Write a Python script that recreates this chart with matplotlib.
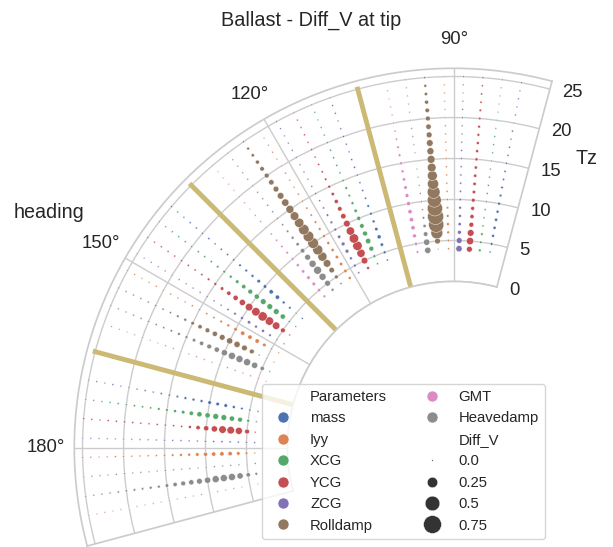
import numpy as np
import pandas as pd
import matplotlib
matplotlib.use('Agg')
import matplotlib.pyplot as plt
from matplotlib.lines import Line2D

plt.rcParams['font.family'] = ['Liberation Sans', 'DejaVu Sans']
plt.rcParams['text.color'] = '#262626'
plt.rcParams['axes.labelcolor'] = '#262626'
plt.rcParams['xtick.color'] = '#262626'
plt.rcParams['ytick.color'] = '#262626'

params = ['mass', 'Iyy', 'XCG', 'YCG', 'ZCG', 'Rolldamp', 'GMT', 'Heavedamp']
colors = ['#4C72B0', '#DD8452', '#55A868', '#C44E52', '#8172B3', '#937860', '#DA8BC3', '#8C8C8C']
# spread of the parameters around each heading (deg)
offsets = {'mass': -10.5, 'XCG': -7.5, 'YCG': -4.5, 'ZCG': -1.5,
           'Iyy': 1.5, 'Rolldamp': 4.5, 'Heavedamp': 7.5, 'GMT': 10.5}

headings = [90, 120, 150, 180]
tz = list(range(4, 26))
dividers = [105, 135, 165]
size_levels = [0.0, 0.25, 0.5, 0.75]

# Diff_V per parameter, Tz = 4..25
diffv_090 = {
    'mass':      [0.005, 0.013, 0.015, 0.018, 0.018, 0.016, 0.015, 0.013, 0.01, 0.007, 0.006, 0.005, 0.005, 0.004, 0.004, 0.004, 0.003, 0.003, 0.003, 0.002, 0.002, 0.002],
    'Iyy':       [0.005, 0.01, 0.013, 0.013, 0.013, 0.01, 0.006, 0.005, 0.005, 0.004, 0.004, 0.004, 0.003, 0.003, 0.003, 0.003, 0.002, 0.002, 0.002, 0.002, 0.002, 0.002],
    'XCG':       [0.013, 0.01, 0.01, 0.006, 0.005, 0.005, 0.004, 0.004, 0.004, 0.004, 0.003, 0.003, 0.003, 0.003, 0.003, 0.002, 0.002, 0.002, 0.002, 0.002, 0.002, 0.002],
    'YCG':       [0.073, 0.116, 0.1, 0.05, 0.036, 0.029, 0.029, 0.023, 0.021, 0.02, 0.019, 0.018, 0.016, 0.015, 0.014, 0.013, 0.011, 0.01, 0.007, 0.006, 0.005, 0.004],
    'ZCG':       [0.087, 0.073, 0.029, 0.019, 0.015, 0.013, 0.01, 0.007, 0.006, 0.006, 0.005, 0.005, 0.004, 0.004, 0.004, 0.003, 0.003, 0.003, 0.003, 0.002, 0.002, 0.002],
    'Rolldamp':  [0.0, 0.073, 0.33, 0.54, 0.6, 0.54, 0.45, 0.38, 0.28, 0.22, 0.17, 0.14, 0.11, 0.097, 0.073, 0.062, 0.05, 0.042, 0.033, 0.021, 0.015, 0.005],
    'Heavedamp': [0.087, 0.087, 0.043, 0.019, 0.01, 0.004, 0.003, 0.003, 0.002, 0.002, 0.002, 0.002, 0.002, 0.002, 0.002, 0.002, 0.001, 0.001, 0.001, 0.001, 0.001, 0.001],
    'GMT':       [0.01, 0.019, 0.029, 0.036, 0.036, 0.036, 0.032, 0.029, 0.023, 0.019, 0.016, 0.015, 0.013, 0.01, 0.007, 0.006, 0.005, 0.004, 0.003, 0.002, 0.002, 0.001],
}
diffv_120 = {
    'mass':      [0.005, 0.015, 0.021, 0.033, 0.021, 0.015, 0.013, 0.01, 0.006, 0.006, 0.005, 0.005, 0.005, 0.004, 0.004, 0.004, 0.003, 0.003, 0.003, 0.003, 0.002, 0.002],
    'Iyy':       [0.015, 0.021, 0.021, 0.021, 0.018, 0.016, 0.014, 0.012, 0.01, 0.008, 0.007, 0.006, 0.005, 0.004, 0.004, 0.004, 0.003, 0.003, 0.003, 0.002, 0.002, 0.002],
    'XCG':       [0.005, 0.015, 0.05, 0.062, 0.05, 0.042, 0.033, 0.021, 0.015, 0.011, 0.011, 0.007, 0.006, 0.006, 0.005, 0.005, 0.004, 0.004, 0.003, 0.003, 0.003, 0.002],
    'YCG':       [0.015, 0.097, 0.154, 0.2, 0.2, 0.154, 0.097, 0.062, 0.042, 0.033, 0.021, 0.015, 0.01, 0.007, 0.006, 0.005, 0.005, 0.004, 0.004, 0.003, 0.003, 0.002],
    'ZCG':       [0.006, 0.015, 0.015, 0.029, 0.029, 0.021, 0.015, 0.013, 0.01, 0.006, 0.005, 0.005, 0.004, 0.004, 0.004, 0.003, 0.003, 0.003, 0.003, 0.002, 0.002, 0.002],
    'Rolldamp':  [0.005, 0.029, 0.065, 0.13, 0.19, 0.23, 0.26, 0.26, 0.25, 0.2, 0.17, 0.145, 0.12, 0.097, 0.073, 0.062, 0.05, 0.042, 0.033, 0.021, 0.015, 0.005],
    'Heavedamp': [0.015, 0.073, 0.11, 0.14, 0.11, 0.073, 0.042, 0.021, 0.015, 0.01, 0.006, 0.005, 0.004, 0.004, 0.003, 0.003, 0.003, 0.003, 0.002, 0.002, 0.002, 0.002],
    'GMT':       [0.014, 0.02, 0.024, 0.024, 0.02, 0.016, 0.013, 0.01, 0.008, 0.007, 0.006, 0.005, 0.004, 0.004, 0.003, 0.003, 0.003, 0.002, 0.002, 0.002, 0.002, 0.002],
}
diffv_150 = {
    'mass':      [0.003, 0.003, 0.01, 0.015, 0.038, 0.038, 0.024, 0.024, 0.015, 0.013, 0.01, 0.007, 0.006, 0.006, 0.005, 0.005, 0.004, 0.004, 0.004, 0.003, 0.003, 0.003],
    'Iyy':       [0.002, 0.005, 0.024, 0.038, 0.038, 0.038, 0.024, 0.015, 0.011, 0.007, 0.007, 0.005, 0.005, 0.004, 0.004, 0.004, 0.003, 0.003, 0.003, 0.002, 0.002, 0.002],
    'XCG':       [0.002, 0.005, 0.058, 0.071, 0.071, 0.071, 0.058, 0.048, 0.038, 0.024, 0.015, 0.013, 0.01, 0.007, 0.006, 0.006, 0.005, 0.005, 0.004, 0.004, 0.003, 0.003],
    'YCG':       [0.003, 0.048, 0.127, 0.16, 0.195, 0.16, 0.127, 0.084, 0.058, 0.038, 0.024, 0.015, 0.011, 0.007, 0.006, 0.006, 0.005, 0.005, 0.004, 0.004, 0.003, 0.003],
    'ZCG':       [0.003, 0.003, 0.01, 0.015, 0.015, 0.021, 0.015, 0.011, 0.007, 0.005, 0.005, 0.004, 0.004, 0.004, 0.003, 0.003, 0.003, 0.003, 0.002, 0.002, 0.002, 0.002],
    'Rolldamp':  [0.0, 0.0, 0.003, 0.048, 0.071, 0.084, 0.084, 0.071, 0.058, 0.048, 0.038, 0.024, 0.015, 0.01, 0.006, 0.006, 0.004, 0.004, 0.003, 0.003, 0.003, 0.003],
    'Heavedamp': [0.002, 0.038, 0.084, 0.11, 0.11, 0.11, 0.084, 0.058, 0.048, 0.038, 0.024, 0.015, 0.013, 0.01, 0.007, 0.006, 0.005, 0.005, 0.004, 0.004, 0.003, 0.003],
    'GMT':       [0.002, 0.003, 0.004, 0.004, 0.004, 0.004, 0.004, 0.004, 0.003, 0.003, 0.003, 0.003, 0.003, 0.003, 0.002, 0.002, 0.002, 0.002, 0.002, 0.002, 0.002, 0.002],
}
diffv_180 = {
    'mass':      [0.003, 0.006, 0.01, 0.015, 0.024, 0.024, 0.024, 0.015, 0.015, 0.013, 0.01, 0.006, 0.006, 0.004, 0.004, 0.004, 0.003, 0.003, 0.003, 0.002, 0.002, 0.002],
    'Iyy':       [0.003, 0.013, 0.024, 0.038, 0.038, 0.038, 0.033, 0.024, 0.015, 0.013, 0.01, 0.007, 0.005, 0.005, 0.005, 0.004, 0.004, 0.004, 0.003, 0.003, 0.003, 0.003],
    'XCG':       [0.003, 0.015, 0.048, 0.058, 0.071, 0.071, 0.058, 0.058, 0.038, 0.024, 0.015, 0.011, 0.011, 0.007, 0.007, 0.007, 0.005, 0.005, 0.004, 0.003, 0.003, 0.002],
    'YCG':       [0.003, 0.048, 0.11, 0.127, 0.127, 0.084, 0.058, 0.038, 0.015, 0.006, 0.005, 0.005, 0.005, 0.005, 0.005, 0.005, 0.005, 0.005, 0.005, 0.004, 0.004, 0.003],
    'ZCG':       [0.003, 0.004, 0.005, 0.006, 0.006, 0.006, 0.005, 0.004, 0.004, 0.004, 0.003, 0.003, 0.003, 0.003, 0.003, 0.002, 0.002, 0.002, 0.002, 0.002, 0.002, 0.002],
    'Rolldamp':  [0.002, 0.002, 0.002, 0.002, 0.002, 0.002, 0.002, 0.002, 0.002, 0.002, 0.002, 0.002, 0.002, 0.002, 0.002, 0.002, 0.002, 0.002, 0.002, 0.002, 0.002, 0.002],
    'Heavedamp': [0.013, 0.038, 0.084, 0.11, 0.11, 0.11, 0.084, 0.071, 0.058, 0.048, 0.038, 0.024, 0.015, 0.015, 0.011, 0.011, 0.007, 0.007, 0.005, 0.005, 0.004, 0.003],
    'GMT':       [0.002, 0.002, 0.002, 0.002, 0.002, 0.002, 0.002, 0.002, 0.002, 0.002, 0.002, 0.002, 0.002, 0.002, 0.002, 0.002, 0.002, 0.002, 0.002, 0.002, 0.002, 0.002],
}
tables = {90: diffv_090, 120: diffv_120, 150: diffv_150, 180: diffv_180}

rows = []
for h in headings:
    for p in params:
        for t, v in zip(tz, tables[h][p]):
            rows.append({'heading': h, 'Parameters': p, 'Tz': t, 'Diff_V': v})
df = pd.DataFrame(rows)


def marker_area(v):
    return 1 + 220 * np.asarray(v)


fig = plt.figure(figsize=(6.13, 5.47), dpi=100)
ax = fig.add_axes([70 / 613, 1 / 547, 482 / 613, 482 / 547], projection='polar')
ax.set_thetamin(75)
ax.set_thetamax(195)
ax.set_rlim(0, 26)
ax.set_rorigin(-20.3)
ax.set_thetagrids(headings)
ax.set_rgrids([0, 5, 10, 15, 20, 25])
ax.grid(True, color='#cccccc', lw=1.0)
for sp in ax.spines.values():
    sp.set_color('#cccccc')
    sp.set_linewidth(1.25)
ax.tick_params(axis='x', labelsize=13.3, pad=13.5, length=0)
ax.tick_params(axis='y', labelsize=13.3, pad=9, length=0)

for d in dividers:
    ax.plot([np.deg2rad(d)] * 2, [0, 25], color='#CCB974', lw=3.5, zorder=2)

for p, c in zip(params, colors):
    sub = df[df['Parameters'] == p]
    ax.scatter(np.deg2rad(sub['heading'] + offsets[p]), sub['Tz'],
               s=marker_area(sub['Diff_V']), color=c, edgecolor='w',
               linewidth=0.3, zorder=3)

ax.set_title('Ballast - Diff_V at tip', fontsize=14.3, y=1.08, pad=0)
ax.set_xlabel('heading', fontsize=14.2)
ax.xaxis.set_label_coords(-0.0436, 0.691)
ax.xaxis.label.set_va('center')
ax.set_ylabel('Tz', fontsize=14.2, rotation=0)
ax.yaxis.set_label_coords(1.072, 0.803)
ax.yaxis.label.set_va('center')
ax.yaxis.label.set_ha('center')

# legend: colour for parameter, marker size for Diff_V
handles = [Line2D([], [], ls='none', marker='')]
labels = ['Parameters']
for p, c in zip(params, colors):
    handles.append(Line2D([], [], ls='none', marker='o', ms=8, mfc=c, mec='w', mew=0.5))
    labels.append(p)
handles.append(Line2D([], [], ls='none', marker=''))
labels.append('Diff_V')
for v in size_levels:
    handles.append(Line2D([], [], ls='none', marker='o', ms=float(np.sqrt(marker_area(v))),
                          mfc='#333333', mec='w', mew=0.3))
    labels.append(str(v))
leg = ax.legend(handles, labels, ncol=2, loc='lower right', fontsize=10.7,
                labelspacing=0.5, framealpha=0.8)
leg.get_frame().set_edgecolor('#cccccc')

fig.savefig('out.png', dpi=100)
